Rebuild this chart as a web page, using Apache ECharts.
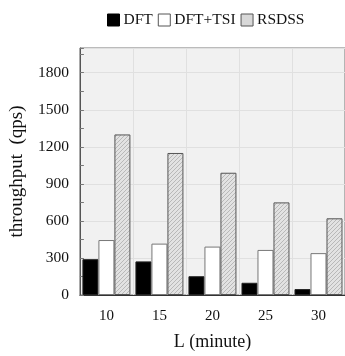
<!DOCTYPE html>
<html><head><meta charset="utf-8">
<script src="https://cdn.jsdelivr.net/npm/echarts@6/dist/echarts.min.js"></script>
<style>html,body{margin:0;padding:0;background:#fff}#c{width:345px;height:356px}</style>
</head><body><div id="c"></div>
<script>
const categories = ['10', '15', '20', '25', '30'];
const dft = [290, 272, 152, 99, 48];
const dftTsi = [445, 416, 392, 365, 339];
const rsdss = [1300, 1150, 990, 750, 621];
const seriesNames = ['DFT', 'DFT+TSI', 'RSDSS'];

const pc = document.createElement('canvas');
pc.width = 4; pc.height = 4;
const g = pc.getContext('2d');
g.fillStyle = '#e2e2e2'; g.fillRect(0,0,4,4);
g.strokeStyle = '#b8b8b8'; g.lineWidth = 1;
g.beginPath(); g.moveTo(0,4); g.lineTo(4,0); g.stroke();
g.beginPath(); g.moveTo(-1,1); g.lineTo(1,-1); g.stroke();
g.beginPath(); g.moveTo(3,5); g.lineTo(5,3); g.stroke();

const font = 'Liberation Serif';
const chart = echarts.init(document.getElementById('c'), null, {renderer:'canvas'});
chart.setOption({
  animation: false,
  textStyle: {fontFamily: font},
  legend: {
    top: 7, left: 102,
    itemWidth: 12, itemHeight: 12, itemGap: 5,
    icon: 'rect',
    textStyle: {fontFamily: font, fontSize: 15.5, color: '#111', padding: [0,0,0,-1]},
    data: [
      {name: seriesNames[0], itemStyle:{color:'#000', borderColor:'#000', borderWidth:1}},
      {name: seriesNames[1], itemStyle:{color:'#fff', borderColor:'#555', borderWidth:1}},
      {name: seriesNames[2], itemStyle:{color:'#d8d8d8', borderColor:'#555', borderWidth:1}}
    ]
  },
  grid: {left: 77, top: 48, width: 271, height: 250, show: true, backgroundColor: '#f1f1f1', borderColor: '#777', borderWidth: 1},
  xAxis: {
    type: 'category', data: categories,
    name: 'L (minute)', nameLocation: 'middle', nameGap: 38,
    nameTextStyle: {fontFamily: font, fontSize: 18, color: '#111'},
    axisLine: {lineStyle: {color: '#333'}},
    axisTick: {show: false},
    axisLabel: {fontFamily: font, fontSize: 15, color: '#111', margin: 14},
    splitLine: {show: true, lineStyle: {color: '#e0e0e0'}}
  },
  yAxis: {
    type: 'value', min: 0, max: 2000, interval: 300,
    name: 'throughput  (qps)', nameLocation: 'middle', nameGap: 52,
    nameTextStyle: {fontFamily: font, fontSize: 19, color: '#111'},
    axisLine: {show: true, lineStyle: {color: '#555'}},
    axisTick: {show: true, inside: true, length: 4, lineStyle: {color: '#777'}},
    minorTick: {show: true, splitNumber: 2, length: 4, lineStyle: {color: '#777'}},
    axisLabel: {fontFamily: font, fontSize: 15.5, color: '#111', margin: 11, showMaxLabel: false,
      formatter: v => v === 2000 ? '' : String(v)},
    splitLine: {show: true, lineStyle: {color: '#e0e0e0'}}
  },
  series: [
    {name: seriesNames[0], type: 'bar', data: dft, barWidth: 16, barGap: '0%',
     itemStyle: {color: '#000', borderColor: '#222', borderWidth: 1}},
    {name: seriesNames[1], type: 'bar', data: dftTsi, barWidth: 16, barGap: '0%',
     itemStyle: {color: '#fff', borderColor: '#777', borderWidth: 1}},
    {name: seriesNames[2], type: 'bar', data: rsdss, barWidth: 16, barGap: '0%',
     itemStyle: {color: {image: pc, repeat: 'repeat'}, borderColor: '#555', borderWidth: 1}}
  ]
});
</script></body></html>
